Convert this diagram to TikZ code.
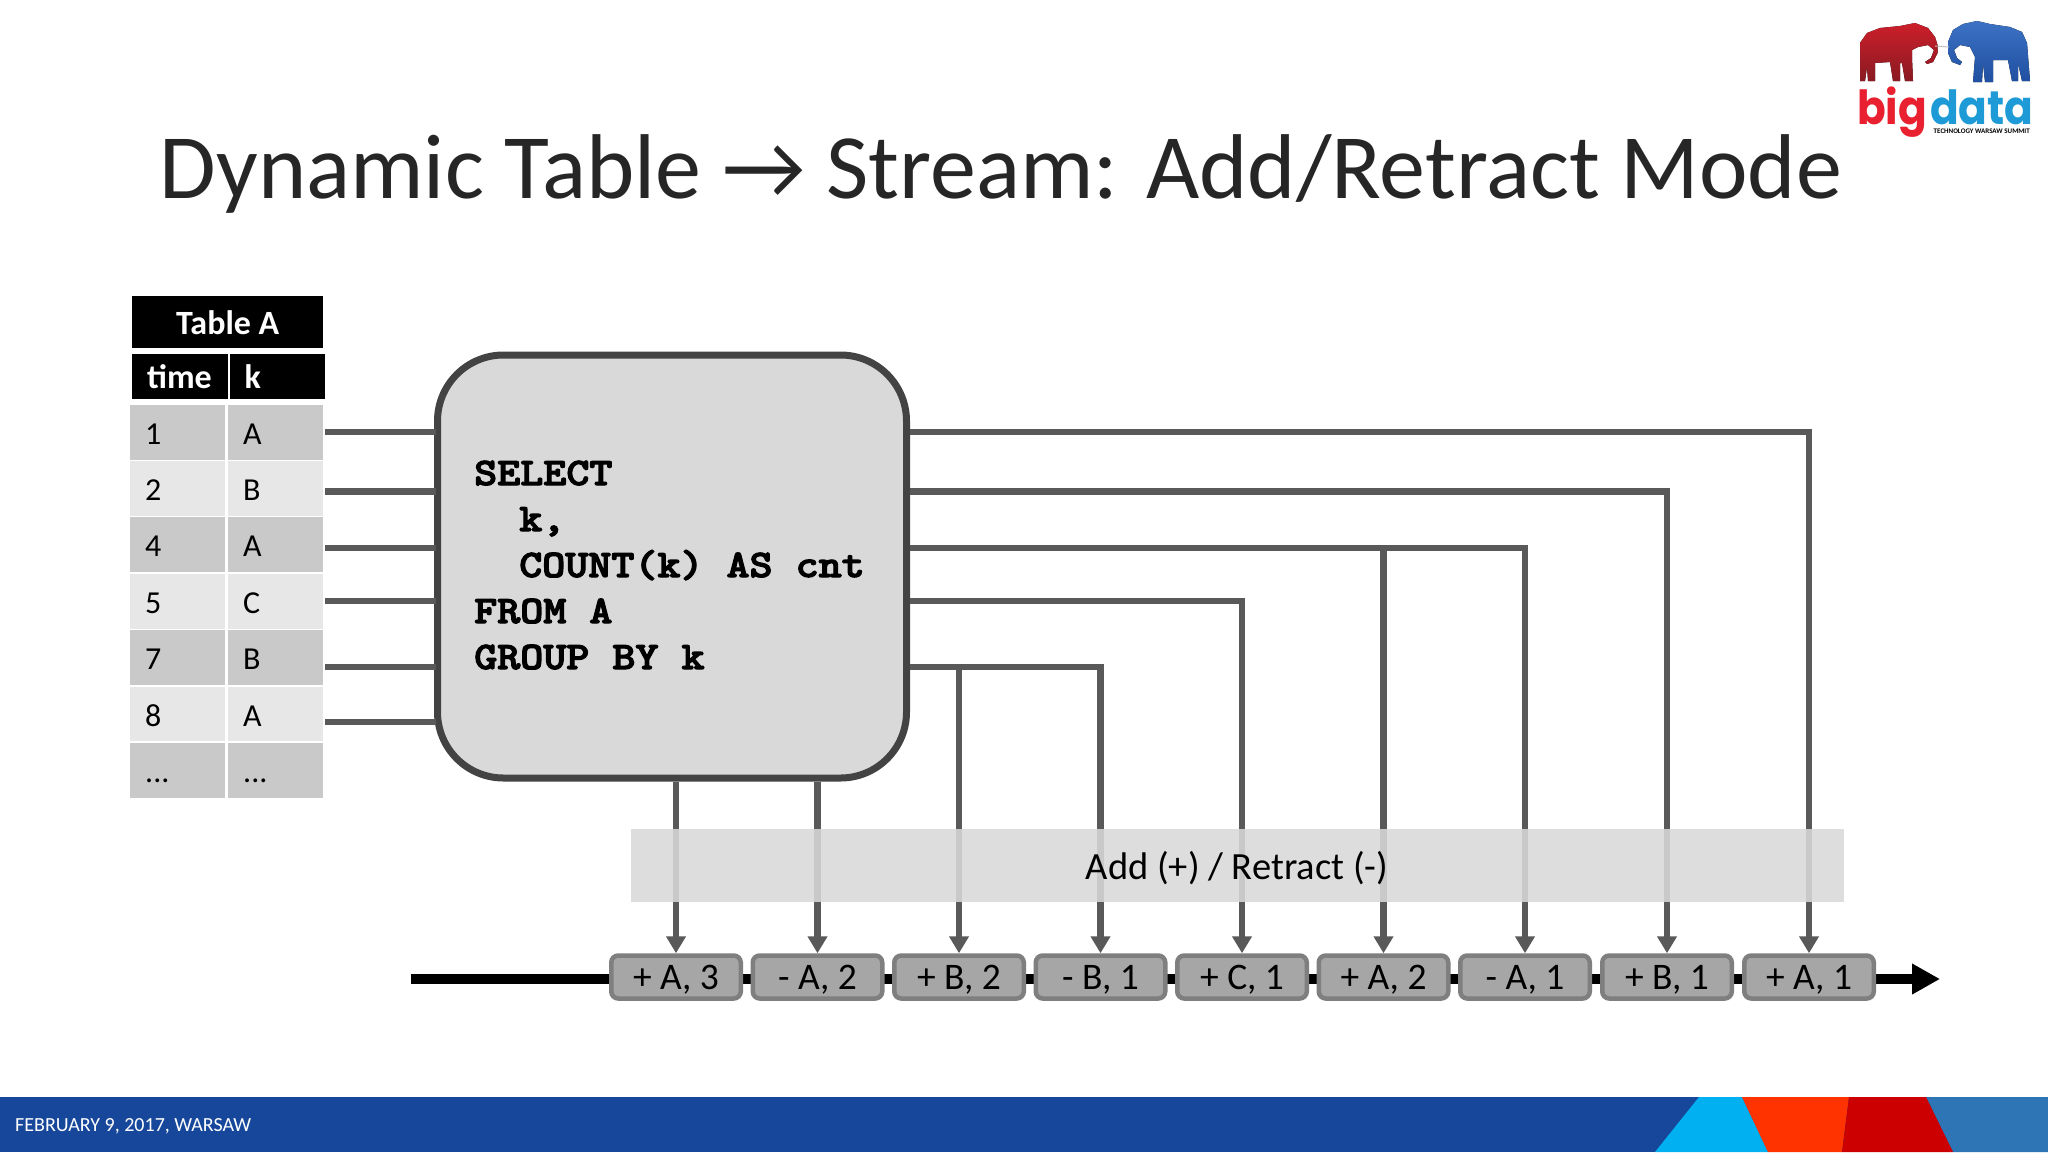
\documentclass[tikz,border=0pt]{standalone}
\usepackage{fontspec}
\setmainfont{Carlito}
\newfontfamily\logofont{Poppins}
\usetikzlibrary{arrows.meta,calc}
\newcommand{\heavytext}[1]{\special{pdf:code q 2 Tr 1.1 w 0 G}#1\special{pdf:code Q}}
\definecolor{linegray}{HTML}{595959}
\definecolor{boxfill}{HTML}{D9D9D9}
\definecolor{boxedge}{HTML}{434343}
\definecolor{evfill}{HTML}{A6A6A6}
\definecolor{evedge}{HTML}{7F7F7F}
\definecolor{rowdark}{HTML}{C9C9C9}
\definecolor{rowlight}{HTML}{E7E7E7}
\definecolor{footblue}{HTML}{17479A}
\definecolor{ftcyan}{HTML}{00B0F0}
\definecolor{ftorange}{HTML}{FF3300}
\definecolor{ftred}{HTML}{CC0000}
\definecolor{ftblue}{HTML}{2E75B6}
\definecolor{logored}{HTML}{E8202F}
\definecolor{logocyan}{HTML}{1E9BD7}
\definecolor{eleredtop}{HTML}{CC1F2A}
\definecolor{eleredbot}{HTML}{8A1A22}
\definecolor{elebluetop}{HTML}{3C72C4}
\definecolor{eleblubot}{HTML}{1F4FA0}
\tikzset{
  headcell/.style={fill=black,text=white,inner ysep=0,font=\fontsize{34}{34}\selectfont\bfseries,anchor=north west},
  hdcol/.style={headcell,inner xsep=15pt,text width=#1,minimum height=45pt,text height=23pt,text depth=0pt,align=left},
  datacell/.style={inner ysep=0,inner xsep=15pt,text width=65pt,minimum height=54.5pt,text height=25pt,text depth=0pt,align=left,anchor=north west,font=\fontsize{32}{32}\selectfont},
  conn/.style={draw=linegray,line width=6.6pt},
  connarrow/.style={conn,-{Triangle[length=17pt,width=19pt]}},
  tablelink/.style={conn,shorten <=2pt,shorten >=-2pt},
  event/.style={draw=evedge,fill=evfill,line width=4.5pt,rounded corners=7pt,minimum width=129.5pt,minimum height=43pt,inner sep=0,text height=24pt,text depth=0pt,font=\fontsize{37.5}{37.5}\selectfont},
  sqlline/.style={anchor=base west,inner sep=0,font=\ttfamily\bfseries\fontsize{39}{39}\selectfont,xscale=1.125},
}
\begin{document}
\begin{tikzpicture}[x=1pt,y=-1pt]
\useasboundingbox (0,0) rectangle (2048,1152);
\fill[white] (0,0) rectangle (2048,1152);

% footer
\fill[footblue] (0,1097) rectangle (2048,1152);
\fill[ftblue] (1926,1097) -- (2048,1097) -- (2048,1152) -- (1953,1152) -- cycle;
\fill[ftcyan] (1699,1097) -- (1742,1097) -- (1768,1152) -- (1655,1152) -- cycle;
\fill[ftorange] (1742,1097) -- (1849,1097) -- (1842,1152) -- (1768,1152) -- cycle;
\fill[ftred] (1849,1097) -- (1926,1097) -- (1953,1152) -- (1842,1152) -- cycle;
\node[anchor=base west,inner sep=0,text=white,font=\fontsize{20}{20}\selectfont] (foot) at (15,1131) {FEBRUARY 9, 2017, WARSAW};

% title
\node[anchor=base,inner sep=0,text=black!85,font=\fontsize{92}{92}\selectfont] (title) at (1001,198) {Dynamic Table → Stream: Add/Retract Mode};

% logo
\fill[top color=eleredtop,bottom color=eleredbot]
 (1860,81) -- (1860,43) -- (1867,33) -- (1880,28) -- (1900,26) -- (1915,23) -- (1928,28) -- (1935,37) -- (1937.5,45) -- (1937.5,53) -- (1933,62) -- (1927,64) -- (1925,62) -- (1931,58) -- (1934,50) -- (1928,45) -- (1918,47) -- (1912,50) -- (1912,58) -- (1913,81) -- (1905,81) -- (1902,63) -- (1900,63) -- (1900,81) -- (1893,81) -- (1890,62) -- (1875,63) -- (1875,81) -- (1868,81) -- (1867,67) -- (1865,81) -- cycle;
\fill[top color=elebluetop,bottom color=eleblubot]
 (2030,81) -- (2022,81) -- (2018,63) -- (2018,81) -- (2012,81) -- (2008,60) -- (1993,60) -- (1993,82) -- (1985,82) -- (1983,63) -- (1982,82) -- (1973,82) -- (1975,57) -- (1970,47) -- (1960,45) -- (1954,50) -- (1957,58) -- (1962,62) -- (1960,65) -- (1952,62) -- (1948,53) -- (1948,42) -- (1953,30) -- (1963,24) -- (1977,21) -- (1990,24) -- (2010,27) -- (2022,32) -- (2027,43) -- cycle;
\draw[black!25,line width=1pt] (1935,46) -- (1949,47);
\node[anchor=base west,inner sep=0,text=logored,xscale=0.9,font=\logofont\fontsize{47}{47}\selectfont\bfseries] (lbig) at (1857,124) {big};
\node[anchor=base west,inner sep=0,text=logocyan,xscale=0.9,font=\logofont\fontsize{47}{47}\selectfont\bfseries] (ldata) at (1930,124) {data};
\node[anchor=base east,inner sep=0,text=black,font=\fontsize{7}{7}\selectfont\bfseries] (lsub) at (2030,133) {TECHNOLOGY WARSAW SUMMIT};

% timeline
\coordinate (tlstart) at (411,979);
\coordinate (tlend) at (1940,979);
\draw[black,line width=10pt,-{Triangle[length=28pt,width=29pt]}] (tlstart) -- (tlend);

% events
\node[event] (e1) at (676,977) {+ A, 3};
\node[event] (e2) at (817.5,977) {- A, 2};
\node[event] (e3) at (959,977) {+ B, 2};
\node[event] (e4) at (1100.5,977) {- B, 1};
\node[event] (e5) at (1242,977) {+ C, 1};
\node[event] (e6) at (1383.5,977) {+ A, 2};
\node[event] (e7) at (1525,977) {- A, 1};
\node[event] (e8) at (1667,977) {+ B, 1};
\node[event] (e9) at (1809,977) {+ A, 1};

% query box
\node[draw=boxedge,fill=boxfill,line width=7pt,rounded corners=66pt,minimum width=469pt,minimum height=423pt,inner sep=0] (q) at (672,566.5) {};
\node[sqlline] (s1) at (474,485) {\heavytext{SELECT}};
\node[sqlline] (s2) at (519,531) {\heavytext{k,}};
\node[sqlline] (s3) at (519,577) {\heavytext{COUNT(k) AS cnt}};
\node[sqlline] (s4) at (474,623) {\heavytext{FROM A}};
\node[sqlline] (s5) at (474,669) {\heavytext{GROUP BY k}};

% table
\node[headcell,minimum width=191pt,minimum height=52pt,text height=24pt,text depth=0pt,inner xsep=0] (thead) at (132,296) {Table A};
\node[hdcol=65.5pt] (htime) at (132,354) {time};
\node[hdcol=65.5pt] (hk) at (229.5,354) {k};
\node[datacell,fill=rowdark] (t1) at (130,405) {1};
\node[datacell,fill=rowdark] (k1) at (228,405) {A};
\node[datacell,fill=rowlight] (t2) at (130,461) {2};
\node[datacell,fill=rowlight] (k2) at (228,461) {B};
\node[datacell,fill=rowdark] (t3) at (130,517) {4};
\node[datacell,fill=rowdark] (k3) at (228,517) {A};
\node[datacell,fill=rowlight] (t4) at (130,574) {5};
\node[datacell,fill=rowlight] (k4) at (228,574) {C};
\node[datacell,fill=rowdark] (t5) at (130,630) {7};
\node[datacell,fill=rowdark] (k5) at (228,630) {B};
\node[datacell,fill=rowlight] (t6) at (130,686.5) {8};
\node[datacell,fill=rowlight] (k6) at (228,686.5) {A};
\node[datacell,fill=rowdark] (t7) at (130,743) {...};
\node[datacell,fill=rowdark] (k7) at (228,743) {...};

% connector heights
\coordinate (y1) at (0,432);
\coordinate (y2) at (0,491.5);
\coordinate (y3) at (0,548);
\coordinate (y4) at (0,601);
\coordinate (y5) at (0,667);
\coordinate (y6) at (0,722);

% table to query
\draw[tablelink] (k1.east |- y1) -- (q.west |- y1);
\draw[tablelink] (k2.east |- y2) -- (q.west |- y2);
\draw[tablelink] (k3.east |- y3) -- (q.west |- y3);
\draw[tablelink] (k4.east |- y4) -- (q.west |- y4);
\draw[tablelink] (k5.east |- y5) -- (q.west |- y5);
\draw[tablelink] (k6.east |- y6) -- (q.west |- y6);

% query to events
\draw[connarrow] (e1.north |- q.south) -- (e1.north);
\draw[connarrow] (e2.north |- q.south) -- (e2.north);
\draw[connarrow] (q.east |- y5) -| (e4.north);
\draw[connarrow] (e3.north |- y5) -- (e3.north);
\draw[connarrow] (q.east |- y4) -| (e5.north);
\draw[connarrow] (q.east |- y3) -| (e7.north);
\draw[connarrow] (e6.north |- y3) -- (e6.north);
\draw[connarrow] (q.east |- y2) -| (e8.north);
\draw[connarrow] (q.east |- y1) -| (e9.north);

% band
\fill[boxfill,fill opacity=0.88] (631,829) rectangle (1844,902);
\node[anchor=base,inner sep=0,font=\fontsize{38.5}{38.5}\selectfont] (band) at (1237,879) {Add (+) / Retract (-)};
\end{tikzpicture}
\end{document}
